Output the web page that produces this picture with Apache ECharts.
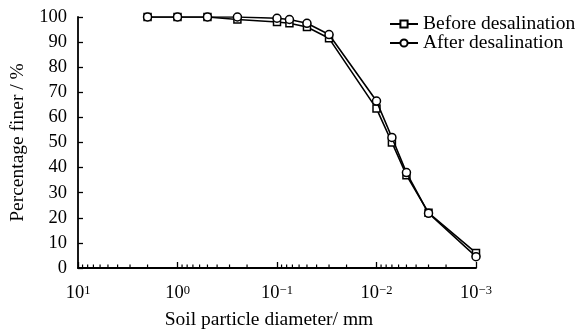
<!DOCTYPE html>
<html>
<head>
<meta charset="utf-8">
<script src="https://cdn.jsdelivr.net/npm/echarts@6/dist/echarts.min.js"></script>
<style>
  html, body { margin: 0; padding: 0; background: #fff; }
  #chart { width: 579px; height: 331px; }
</style>
</head>
<body>
<div id="chart"></div>
<script>
// Particle diameters (mm) of the grading test
const diameters = [2, 1, 0.5, 0.25, 0.1, 0.075, 0.05, 0.03, 0.01, 0.007, 0.005, 0.003, 0.001];
// Percentage finer (%)
const beforeDesalination = [100, 100, 100, 99, 98, 97.5, 96, 91.5, 63.5, 50, 37, 22, 6];
const afterDesalination  = [100, 100, 100, 100, 99.5, 99, 97.5, 93, 66.5, 52, 38, 21.8, 4.5];

// Decade ticks of the log axis and their exponents
const xTickValues = [10, 1, 0.1, 0.01, 0.001];
const xTickExponents = ['1', '0', '\u22121', '\u22122', '\u22123'];
// Minor ticks (2..9 within each decade)
const xMinorTicks = [
  9, 8, 7, 6, 5, 4, 3, 2,
  0.9, 0.8, 0.7, 0.6, 0.5, 0.4, 0.3, 0.2,
  0.09, 0.08, 0.07, 0.06, 0.05, 0.04, 0.03, 0.02,
  0.009, 0.008, 0.007, 0.006, 0.005, 0.004, 0.003, 0.002
];

const seriesNames = ['Before desalination', 'After desalination'];

const FONT = 'Liberation Serif';
const pair = (xs, ys) => xs.map((x, i) => [x, ys[i]]);

// One legend row per series, stacked at the upper right
const legendRow = (name, top) => ({
  orient: 'vertical',
  left: 389,
  top: top,
  padding: 0,
  itemWidth: 28,
  itemHeight: 9,
  data: [name],
  textStyle: { fontFamily: FONT, fontSize: 19.5, lineHeight: 20, color: '#000' }
});

const chart = echarts.init(document.getElementById('chart'), null, { renderer: 'canvas' });

chart.setOption({
  animation: false,
  backgroundColor: '#fff',
  textStyle: { fontFamily: FONT, color: '#000' },
  grid: { left: 78, right: 103, top: 17, bottom: 63, outerBoundsMode: 'none', containLabel: false },
  legend: [legendRow(seriesNames[0], 14), legendRow(seriesNames[1], 33)],
  xAxis: {
    type: 'log',
    logBase: 10,
    min: 0.001,
    max: 10,
    inverse: true,
    name: 'Soil particle diameter/ mm',
    nameLocation: 'middle',
    nameGap: 42,
    nameTextStyle: { fontFamily: FONT, fontSize: 19.5, color: '#000', padding: [0, 16, 0, 0] },
    axisLine: { show: true, lineStyle: { color: '#000', width: 1.8 } },
    axisTick: { show: true, inside: true, length: 6, lineStyle: { color: '#000', width: 1.3 } },
    splitLine: { show: false },
    axisLabel: {
      margin: 16,
      fontFamily: FONT,
      fontSize: 18.5,
      color: '#000',
      formatter: function (v) {
        let idx = xTickValues.findIndex(t => Math.abs(Math.log10(t) - Math.log10(v)) < 1e-6);
        if (idx < 0) return '';
        return '10{e|' + xTickExponents[idx] + '}';
      },
      rich: {
        e: { fontFamily: FONT, fontSize: 12.5, color: '#000', verticalAlign: 'top' }
      }
    }
  },
  yAxis: {
    type: 'value',
    min: 0,
    max: 100,
    interval: 10,
    name: 'Percentage finer / %',
    nameLocation: 'middle',
    nameGap: 48,
    nameRotate: 90,
    nameTextStyle: { fontFamily: FONT, fontSize: 19.5, color: '#000' },
    axisLine: { show: true, lineStyle: { color: '#000', width: 1.8 } },
    axisTick: { show: true, inside: true, length: 5, lineStyle: { color: '#000', width: 1.3 } },
    splitLine: { show: false },
    axisLabel: { margin: 11, fontFamily: FONT, fontSize: 18.5, color: '#000' }
  },
  series: [
    {
      type: 'custom',
      name: 'minorTicks',
      silent: true,
      clip: false,
      data: xMinorTicks.map(v => [v, 0]),
      encode: { x: 0, y: 1 },
      renderItem: function (params, api) {
        const p = api.coord([api.value(0), 0]);
        return {
          type: 'line',
          shape: { x1: p[0], y1: p[1], x2: p[0], y2: p[1] - 3.5 },
          style: { stroke: '#000', lineWidth: 1.2 }
        };
      }
    },
    {
      type: 'line',
      name: seriesNames[0],
      data: pair(diameters, beforeDesalination),
      symbol: 'rect',
      symbolSize: 7,
      lineStyle: { color: '#000', width: 1.6 },
      itemStyle: { color: '#fff', borderColor: '#000', borderWidth: 1.5 },
      z: 3
    },
    {
      type: 'line',
      name: seriesNames[1],
      data: pair(diameters, afterDesalination),
      symbol: 'circle',
      symbolSize: 8,
      lineStyle: { color: '#000', width: 1.6 },
      itemStyle: { color: '#fff', borderColor: '#000', borderWidth: 1.5 },
      z: 4
    }
  ]
});
</script>
</body>
</html>
